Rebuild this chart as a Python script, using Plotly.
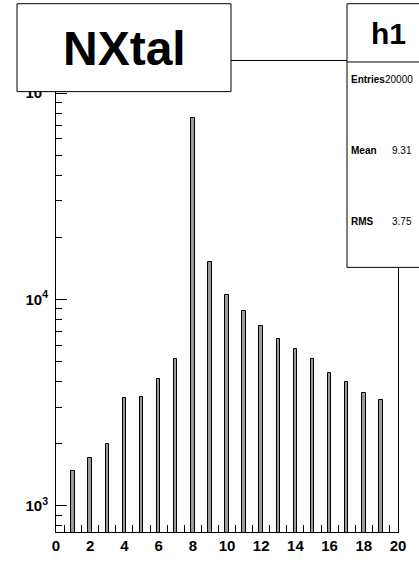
import plotly.graph_objects as go

# ---- data ----
bin_centers = [1, 2, 3, 4, 5, 6, 7, 8, 9, 10, 11, 12, 13, 14, 15, 16, 17, 18, 19]
counts = [1480, 1700, 2000, 3320, 3370, 4130, 5140, 76000, 15200, 10500,
          8770, 7430, 6420, 5750, 5140, 4420, 3980, 3510, 3240]
x_tick_vals = [0, 2, 4, 6, 8, 10, 12, 14, 16, 18, 20]
x_tick_text = ["0", "2", "4", "6", "8", "10", "12", "14", "16", "18", "20"]
y_tick_vals = [1e3, 1e4, 1e5]
y_tick_text = ["10<sup>3</sup>", "10<sup>4</sup>", "10<sup>5</sup>"]
hist_title = "NXtal"
stats_name = "h1"
stats_rows = [("Entries", "20000"), ("Mean", "9.31"), ("RMS", "3.75")]

W, H = 419, 566
L, R, T, B = 56, 398, 61, 538
FONT = "Liberation Sans, Arial, Helvetica, sans-serif"


def px(x):
    return (x - L) / (R - L)


def py(y):
    return (B - y) / (B - T)


fig = go.Figure()
fig.add_trace(go.Bar(
    x=bin_centers, y=counts, width=0.2,
    marker=dict(color="#9a9a9a", line=dict(color="black", width=1)),
    showlegend=False,
))

minor_y = [800, 900] + [k * 1e3 for k in range(2, 10)] + [k * 1e4 for k in range(2, 10)]
minor_x = [i + 0.5 for i in range(20)]

fig.update_layout(
    width=W, height=H,
    margin=dict(l=L, r=W - R, t=T, b=H - B, pad=0),
    paper_bgcolor="white", plot_bgcolor="white",
    bargap=0,
    xaxis=dict(
        range=[0, 20], showgrid=False, zeroline=False,
        showline=True, linecolor="black", linewidth=1, mirror=True,
        tickmode="array", tickvals=x_tick_vals,
        ticktext=["<b>%s</b>" % t for t in x_tick_text],
        ticks="", tickfont=dict(family=FONT, size=15, color="black"),
        minor=dict(tickvals=minor_x, ticks="inside", ticklen=7,
                   tickcolor="black", tickwidth=1, showgrid=False),
    ),
    yaxis=dict(
        type="log", range=[2.873, 5.1555], showgrid=False, zeroline=False,
        showline=True, linecolor="black", linewidth=1, mirror=True,
        tickmode="array", tickvals=y_tick_vals,
        ticktext=["<b>%s</b>" % t for t in y_tick_text],
        ticks="inside", ticklen=11, tickcolor="black", tickwidth=1,
        ticklabelstandoff=4,
        tickfont=dict(family=FONT, size=15, color="black"),
        minor=dict(tickvals=minor_y, ticks="inside", ticklen=6,
                   tickcolor="black", tickwidth=1, showgrid=False),
    ),
)

# title pave
fig.add_shape(type="rect", xref="paper", yref="paper",
              x0=px(17), x1=px(231), y0=py(92), y1=py(3),
              fillcolor="white", line=dict(color="black", width=1), layer="above")
fig.add_annotation(xref="paper", yref="paper", x=px(124), y=py(48),
                   text="<b>%s</b>" % hist_title, showarrow=False,
                   font=dict(family=FONT, size=48, color="black"),
                   xanchor="center", yanchor="middle")

# stats pave
fig.add_shape(type="rect", xref="paper", yref="paper",
              x0=px(347), x1=px(430), y0=py(270), y1=py(3),
              fillcolor="white", line=dict(color="black", width=1), layer="above")
fig.add_shape(type="line", xref="paper", yref="paper",
              x0=px(347), x1=px(430), y0=py(62), y1=py(62),
              line=dict(color="black", width=1), layer="above")
fig.add_annotation(xref="paper", yref="paper", x=px(388), y=py(33),
                   text="<b>%s</b>" % stats_name, showarrow=False,
                   font=dict(family=FONT, size=30, color="black"),
                   xanchor="center", yanchor="middle")
row_y = [80, 152, 224]
val_x = [383, 390, 390]
for (name, val), yy, vx in zip(stats_rows, row_y, val_x):
    fig.add_annotation(xref="paper", yref="paper", x=px(349), y=py(yy),
                       text="<b>%s</b>" % name, showarrow=False,
                       font=dict(family=FONT, size=10, color="black"),
                       xanchor="left", yanchor="middle")
    fig.add_annotation(xref="paper", yref="paper", x=px(vx), y=py(yy),
                       text=val, showarrow=False,
                       font=dict(family=FONT, size=10, color="black"),
                       xanchor="left", yanchor="middle")

fig.write_html("out.html")
